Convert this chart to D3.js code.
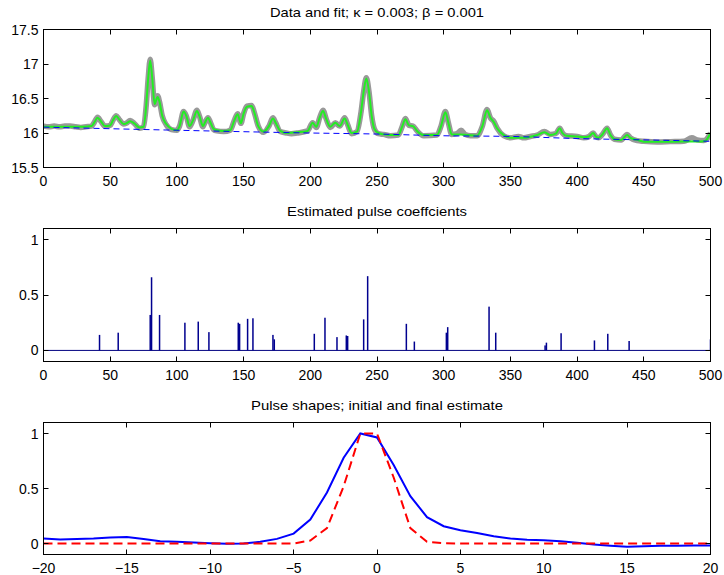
<!DOCTYPE html>
<html><head><meta charset="utf-8">
<script src="https://cdn.jsdelivr.net/npm/d3@7"></script>
<style>
body{margin:0;background:#fff}
text{font-family:"Liberation Sans",Arial,Helvetica,sans-serif;fill:#000}
</style>
</head><body>
<svg id="chart" width="724" height="575"></svg>
<script>
// ---- Panel 1: data and fit ----
const dataX=[0,4,8,12,16,20,24,28,32,36,38,40.5,43,46,50,52,54.5,57,60,62,65,68,72,75,77,78.5,80,81.5,83.3,85.5,87,89,92,96,100,102,105,107,109.5,112,115,117,119.5,121,123.3,125,127.5,130,135,140,143,145.5,148,150,152.5,156,158,161,165,169,172,174,177.5,182,186,190,198,201.75,204.5,207,209.5,212,215,218.75,222,225.75,228,231,235,238,240,242,244,246,248,251,255,260,266,269,271.25,274,277,280,285,295,298,301.25,303.5,306,310,313,316,320,325,329,332.5,335,337.5,340,345,350,356,360,365,370,375.5,380,384,387,389,392,400,405,409,412,414,416,419,422.5,425,428,433,437.5,440,445,450,460,470,480,486,490,495,497,500];
const dataY=[16.1,16.09,16.1,16.09,16.1,16.1,16.09,16.08,16.09,16.1,16.15,16.23,16.17,16.1,16.11,16.18,16.25,16.19,16.13,16.14,16.18,16.14,16.07,16.09,16.4,16.8,17.07,16.8,16.41,16.54,16.45,16.25,16.12,16.05,16.04,16.1,16.31,16.25,16.09,16.18,16.33,16.24,16.09,16.15,16.22,16.16,16.05,16.03,16.02,16.04,16.18,16.28,16.14,16.28,16.39,16.4,16.3,16.1,16.01,16.1,16.22,16.15,16.02,16.0,15.99,16.0,16.03,16.15,16.08,16.22,16.33,16.2,16.08,16.15,16.1,16.22,16.12,15.99,16.02,16.3,16.6,16.8,16.6,16.25,16.06,15.99,15.98,15.96,15.97,16.1,16.21,16.11,16.1,16.03,15.96,15.97,16.1,16.31,16.15,15.98,15.99,16.04,15.98,15.96,15.96,16.1,16.34,16.22,16.17,16.07,15.96,15.93,15.95,15.93,15.95,15.97,16.02,15.98,15.99,16.07,16.0,15.96,15.95,15.93,15.95,16.0,15.95,15.93,15.98,16.07,15.97,15.91,15.9,15.98,15.93,15.89,15.88,15.87,15.875,15.88,15.93,15.9,15.89,15.91,16.0];

const fitX=[0,10,20,30,36,38,40.5,43,46,50,52,54.5,57,60,62,65,68,72,75,77,78.5,80,81.5,83.3,85.5,87,89,92,96,100,102,105,107,109.5,112,115,117,119.5,121,123.3,125,127.5,130,135,140,143,145.5,148,150,152.5,156,158,161,165,169,172,174,177.5,182,190,198,201.75,204.5,207,209.5,212,215,218.75,222,225.75,228,231,235,238,240,242,244,246,248,251,255,260,266,269,271.25,274,277,280,285,295,298,301.25,303.5,306,312,318,325,329,332.5,335,337.5,340,345,350,360,370,375.5,380,384,387,389,392,400,405,409,412,414,416,419,422.5,425,428,433,437.5,440,445,450,470,490,495,497,500];
const fitY=[16.09,16.09,16.09,16.09,16.1,16.15,16.22,16.17,16.1,16.11,16.18,16.245,16.19,16.13,16.14,16.17,16.14,16.08,16.09,16.4,16.8,17.05,16.8,16.42,16.52,16.45,16.25,16.13,16.06,16.04,16.1,16.31,16.25,16.1,16.18,16.32,16.24,16.1,16.15,16.22,16.16,16.06,16.04,16.03,16.04,16.18,16.27,16.14,16.28,16.38,16.39,16.3,16.1,16.02,16.1,16.21,16.15,16.03,16.0,16.01,16.03,16.15,16.09,16.22,16.32,16.2,16.09,16.15,16.1,16.21,16.12,16.0,16.02,16.3,16.6,16.79,16.6,16.25,16.06,16.0,15.98,15.97,15.97,16.1,16.2,16.11,16.1,16.03,15.97,15.97,16.1,16.3,16.15,15.98,15.98,15.97,15.96,16.1,16.33,16.22,16.16,16.07,15.97,15.93,15.93,15.97,16.01,15.97,15.99,16.07,16.0,15.96,15.95,15.94,15.95,16.0,15.95,15.93,15.98,16.07,15.97,15.91,15.9,15.97,15.93,15.9,15.875,15.875,15.876,15.88,15.9,16.0];

const baseX=[0,100,200,250,300,350,400,450,500];
const baseY=[16.085,16.04,16.0,15.985,15.96,15.95,15.92,15.9,15.88];

const yTicks1=[15.5,16,16.5,17,17.5];
const yLabels1=["15.5","16","16.5","17","17.5"];
const xTicks12=[0,50,100,150,200,250,300,350,400,450,500];

// ---- Panel 2: estimated pulse coefficients ----
const coefX=[42,56,80,81,87,106,116,124,146,147,153,157,172,173,203,211,220,227,228,240,243,272,278,302,303,334,339,376,377,388,413,423,439,500];
const coefY=[0.14,0.16,0.32,0.66,0.32,0.25,0.26,0.165,0.25,0.24,0.285,0.29,0.14,0.10,0.15,0.295,0.12,0.135,0.13,0.28,0.67,0.24,0.08,0.16,0.21,0.395,0.16,0.045,0.07,0.155,0.09,0.15,0.085,0.10];
const yTicks23=[0,0.5,1];
const yLabels23=["0","0.5","1"];

// ---- Panel 3: pulse shapes ----
const lags=[-20,-19,-18,-17,-16,-15,-14,-13,-12,-11,-10,-9,-8,-7,-6,-5,-4,-3,-2,-1,0,1,2,3,4,5,6,7,8,9,10,11,12,13,14,15,16,17,18,19,20];
const finalShape=[0.045,0.036,0.04,0.045,0.054,0.06,0.04,0.02,0.015,0.01,0.003,-0.003,0,0.015,0.042,0.09,0.217,0.464,0.78,1.0,0.964,0.714,0.43,0.24,0.157,0.12,0.096,0.066,0.045,0.033,0.03,0.021,0.006,-0.009,-0.021,-0.03,-0.024,-0.021,-0.021,-0.018,-0.018];
const initialShape=[0,0,0,0,0,0,0,0,0,0,0,0,0,0,0,0,0.027,0.14,0.52,1.0,1.0,0.6,0.14,0.015,0.003,0,0,0,0,0,0,0,0,0,0,0,0,0,0,0,0];
const xTicks3=[-20,-15,-10,-5,0,5,10,15,20];

const titles=["Data and fit; \u03ba = 0.003; \u03b2 = 0.001","Estimated pulse coeffcients","Pulse shapes; initial and final estimate"];
const titleWidths=[214,180,252];

const svg=d3.select("#chart");
const L=43.5,R=710.5;
const minus=s=>String(s).replace("-","\u2212");

function panel(i,top,bottom,xDom,yDom,xTicks,yTicks,yLabels){
  const x=d3.scaleLinear().domain(xDom).range([L,R]);
  const y=d3.scaleLinear().domain(yDom).range([bottom,top]);
  const g=svg.append("g");
  g.append("clipPath").attr("id","clip"+i).append("rect")
    .attr("x",L).attr("y",top).attr("width",R-L).attr("height",bottom-top);
  const plot=g.append("g").attr("clip-path",`url(#clip${i})`);
  const axes=g.append("g");
  axes.append("rect").attr("x",L).attr("y",top).attr("width",R-L).attr("height",bottom-top)
    .attr("fill","none").attr("stroke","#000").attr("stroke-width",1);
  const tl=5;
  xTicks.forEach(t=>{
    const px=Math.round(x(t)-0.5)+0.5;
    axes.append("line").attr("x1",px).attr("x2",px).attr("y1",bottom).attr("y2",bottom-tl).attr("stroke","#000");
    axes.append("line").attr("x1",px).attr("x2",px).attr("y1",top).attr("y2",top+tl).attr("stroke","#000");
    axes.append("text").attr("x",x(t)).attr("y",bottom+18.5).attr("text-anchor","middle")
      .attr("font-size","14px").text(minus(t));
  });
  yTicks.forEach((t,k)=>{
    const py=Math.round(y(t)-0.5)+0.5;
    axes.append("line").attr("x1",L).attr("x2",L+tl).attr("y1",py).attr("y2",py).attr("stroke","#000");
    axes.append("line").attr("x1",R).attr("x2",R-tl).attr("y1",py).attr("y2",py).attr("stroke","#000");
    axes.append("text").attr("x",L-5).attr("y",y(t)+5).attr("text-anchor","end")
      .attr("font-size","14px").text(yLabels[k]);
  });
  g.append("text").attr("x",(L+R)/2).attr("y",top-12.5).attr("text-anchor","middle")
    .attr("font-size","13.5px")
    .attr("textLength",titleWidths[i]).attr("lengthAdjust","spacingAndGlyphs")
    .text(titles[i]);
  return {x,y,plot};
}

// Panel 1
{
  const p=panel(0,29.5,167.5,[0,500],[15.5,17.5],xTicks12,yTicks1,yLabels1);
  const line=(xs,ys,curve)=>d3.line().x((d,k)=>p.x(xs[k])).y(d=>p.y(d)).curve(curve)(ys);
  p.plot.append("path").attr("d",line(dataX,dataY,d3.curveMonotoneX))
    .attr("fill","none").attr("stroke","#999").attr("stroke-width",5.5).attr("stroke-linejoin","round");
  p.plot.append("path").attr("d",line(fitX,fitY,d3.curveMonotoneX))
    .attr("fill","none").attr("stroke","#22ee22").attr("stroke-width",2);
  p.plot.append("path").attr("d",line(baseX,baseY,d3.curveMonotoneX))
    .attr("fill","none").attr("stroke","#0000ff").attr("stroke-width",1).attr("stroke-dasharray","6,4");
}
// Panel 2
{
  const p=panel(1,228.5,361.5,[0,500],[-0.1,1.1],xTicks12,yTicks23,yLabels23);
  p.plot.append("line").attr("x1",L).attr("x2",R).attr("y1",p.y(0)).attr("y2",p.y(0))
    .attr("stroke","#000080").attr("stroke-width",1);
  p.plot.selectAll("rect.bar").data(coefY).enter().append("rect").attr("class","bar")
    .attr("x",(d,k)=>p.x(coefX[k])-0.75).attr("width",1.5)
    .attr("y",d=>p.y(d)).attr("height",d=>p.y(0)-p.y(d))
    .attr("fill","#00008f");
}
// Panel 3
{
  const p=panel(2,422.5,554.5,[-20,20],[-0.1,1.1],xTicks3,yTicks23,yLabels23);
  const ln=d3.line().x((d,k)=>p.x(lags[k])).y(d=>p.y(d));
  p.plot.append("path").attr("d",ln(finalShape)).attr("fill","none")
    .attr("stroke","#0000ff").attr("stroke-width",2);
  p.plot.append("path").attr("d",ln(initialShape)).attr("fill","none")
    .attr("stroke","#ff0000").attr("stroke-width",2).attr("stroke-dasharray","9,5");
}
</script>
</body></html>
